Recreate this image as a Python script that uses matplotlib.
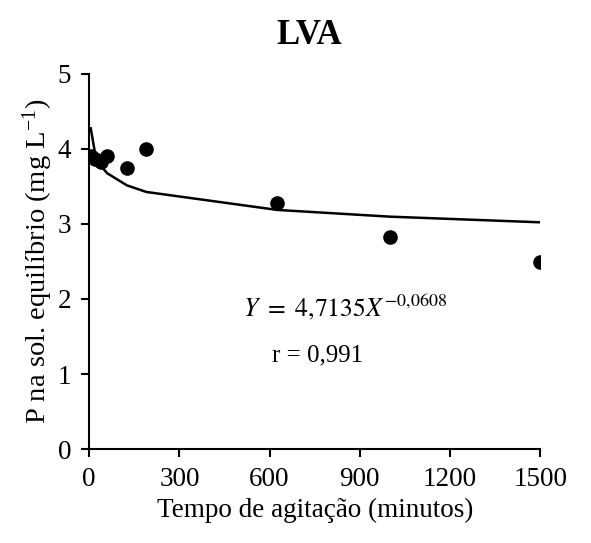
import matplotlib
matplotlib.use("Agg")
import matplotlib.pyplot as plt
import numpy as np

plt.rcParams["font.family"] = ["Liberation Serif", "DejaVu Serif"]
plt.rcParams["mathtext.fontset"] = "stix"

# agitation time (min) and P in equilibrium solution (mg/L)
tempo = [5, 20, 40, 60, 125, 190, 625, 1000, 1500]
p_sol = [3.90, 3.87, 3.83, 3.91, 3.75, 4.00, 3.28, 2.82, 2.49]

# fitted power model Y = a X^b
a_fit = 4.7135
b_fit = -0.0608
r_fit = "0,991"

x_ticks = [0, 300, 600, 900, 1200, 1500]
y_ticks = [0, 1, 2, 3, 4, 5]

fig = plt.figure(figsize=(5.91, 5.43), dpi=100)
ax = fig.add_axes([0.151, 0.173, 0.763, 0.691])

x = np.array(tempo, dtype=float)
ax.plot(x, a_fit * x ** b_fit, color="black", lw=1.8, zorder=2)
ax.plot(tempo, p_sol, ls="", marker="o", ms=9.5, color="black", zorder=3)

ax.set_xlim(0, 1500)
ax.set_ylim(0, 5)
ax.set_xticks(x_ticks)
ax.set_yticks(y_ticks)
ax.tick_params(direction="out", length=6, width=1.5, labelsize=19.5, pad=7)
for s in ["top", "right"]:
    ax.spines[s].set_visible(False)
for s in ["left", "bottom"]:
    ax.spines[s].set_linewidth(1.5)

ax.set_xlabel("Tempo de agitação (minutos)", fontsize=19.5, labelpad=4)
ax.set_ylabel(r"P na sol. equilíbrio (mg L$^{\mathregular{-1}}$)", fontsize=20.5, labelpad=2)
fig.text(0.523, 0.935, "LVA", fontsize=25, fontweight="bold", ha="center", va="center")

ax.text(851, 1.89, r"$Y\ =\ 4{,}7135X^{-0{,}0608}$", fontsize=18.5,
        ha="center", va="center")
ax.text(761, 1.25, "r = " + r_fit, fontsize=18, ha="center", va="center")

fig.savefig("out.png", dpi=100)
